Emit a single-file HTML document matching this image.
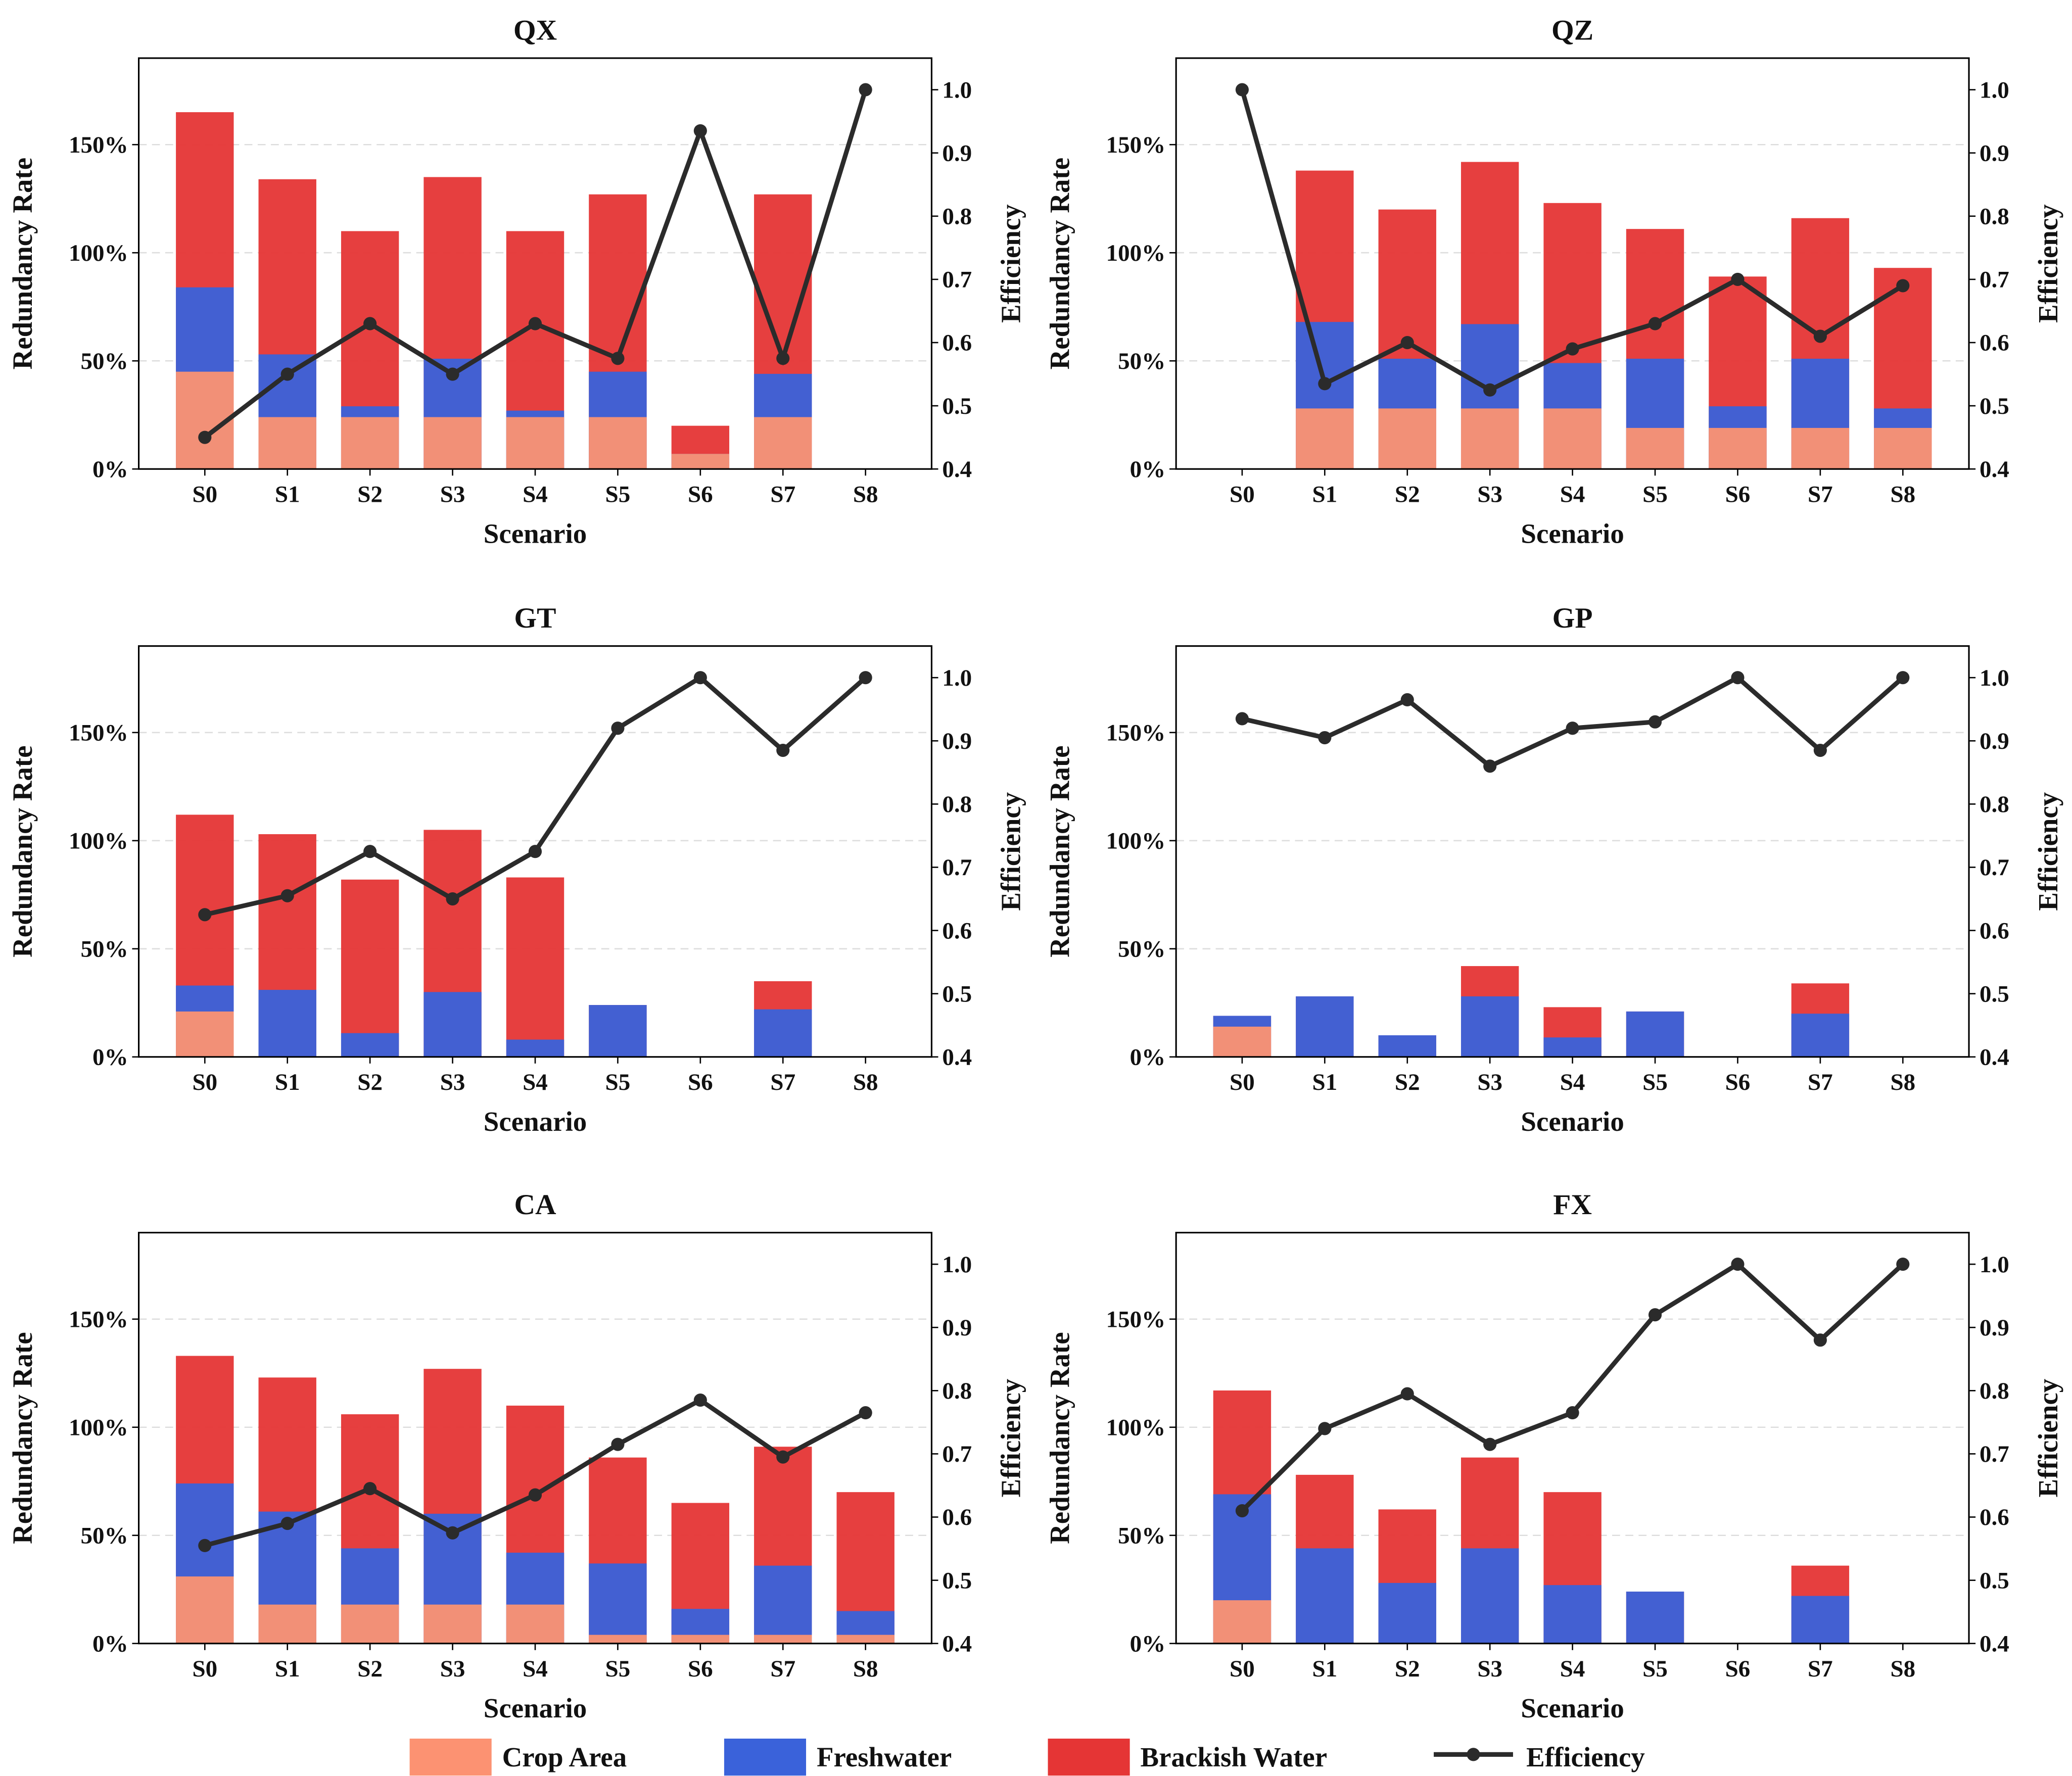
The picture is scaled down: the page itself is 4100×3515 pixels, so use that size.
<!DOCTYPE html>
<html><head><meta charset="utf-8">
<style>
html,body{margin:0;padding:0;background:#fff;}
svg{display:block;}
text{font-family:"Liberation Serif",serif;font-weight:bold;fill:#111;}
</style></head>
<body>
<svg id="chart" width="4100" height="3515" viewBox="0 0 1568 1344.3" preserveAspectRatio="none" xmlns="http://www.w3.org/2000/svg"></svg>
<script>
const scenarios = ["S0","S1","S2","S3","S4","S5","S6","S7","S8"];
const panelTitles = ["QX","QZ","GT","GP","CA","FX"];
const leftTicks = [0,50,100,150];
const rightTicks = [0.4,0.5,0.6,0.7,0.8,0.9,1.0];
const cropQX = [45,24,24,24,24,24,7,24,0];
const freshQX = [84,53,29,51,27,45,7,44,0];
const totalQX = [165,134,110,135,110,127,20,127,0];
const effQX = [0.45,0.55,0.63,0.55,0.63,0.575,0.935,0.575,1.0];
const cropQZ = [0,28,28,28,28,19,19,19,19];
const freshQZ = [0,68,51,67,49,51,29,51,28];
const totalQZ = [0,138,120,142,123,111,89,116,93];
const effQZ = [1.0,0.535,0.6,0.525,0.59,0.63,0.70,0.61,0.69];
const cropGT = [21,0,0,0,0,0,0,0,0];
const freshGT = [33,31,11,30,8,24,0,22,0];
const totalGT = [112,103,82,105,83,24,0,35,0];
const effGT = [0.625,0.655,0.725,0.65,0.725,0.92,1.0,0.885,1.0];
const cropGP = [14,0,0,0,0,0,0,0,0];
const freshGP = [19,28,10,28,9,21,0,20,0];
const totalGP = [19,28,10,42,23,21,0,34,0];
const effGP = [0.935,0.905,0.965,0.86,0.92,0.93,1.0,0.885,1.0];
const cropCA = [31,18,18,18,18,4,4,4,4];
const freshCA = [74,61,44,60,42,37,16,36,15];
const totalCA = [133,123,106,127,110,86,65,91,70];
const effCA = [0.555,0.59,0.645,0.575,0.635,0.715,0.785,0.695,0.765];
const cropFX = [20,0,0,0,0,0,0,0,0];
const freshFX = [69,44,28,44,27,24,0,22,0];
const totalFX = [117,78,62,86,70,24,0,36,0];
const effFX = [0.61,0.74,0.795,0.715,0.765,0.92,1.0,0.88,1.0];
const crops=[cropQX,cropQZ,cropGT,cropGP,cropCA,cropFX];
const freshs=[freshQX,freshQZ,freshGT,freshGP,freshCA,freshFX];
const totals=[totalQX,totalQZ,totalGT,totalGP,totalCA,totalFX];
const effs=[effQX,effQZ,effGT,effGP,effCA,effFX];

const NS="http://www.w3.org/2000/svg";
const svg=document.getElementById('chart');
function el(tag,attrs,parent,txt){const e=document.createElementNS(NS,tag);for(const k in attrs)e.setAttribute(k,attrs[k]);if(txt!==undefined)e.textContent=txt;(parent||svg).appendChild(e);return e;}
const C_CROP="#fc9272",C_FRESH="#3a62da",C_RED="#e53535";
const colX=[105,890], rowY=[44,489,933], W=600, H=311;
for(let p=0;p<6;p++){
  const x0=colX[p%2], y0=rowY[Math.floor(p/2)];
  const g=el('g',{});
  
  
  const xs=i=>x0+(i+0.8)/9.6*W;
  const yl=v=>y0+H-v/190*H;
  const yr=v=>y0+H-(v-0.4)/0.65*H;
  leftTicks.forEach(t=>{const l=el('line',{x1:x0,x2:x0+W,y1:yl(t),y2:yl(t),stroke:'#ddd','stroke-dasharray':'6,4','stroke-width':1},g);});
  const bw=0.7/9.6*W;
  for(let i=0;i<9;i++){
    [[totals[p][i],C_RED,'brackish'],[freshs[p][i],C_FRESH,'freshwater'],[crops[p][i],C_CROP,'crop']].forEach(([v,c,n])=>{
      if(v<=0)return;
      const r=el('rect',{x:xs(i)-bw/2,y:yl(v),width:bw,height:yl(0)-yl(v),fill:c,'fill-opacity':0.95},g);
      
      
    });
  }
  const pts=effs[p].map((v,i)=>xs(i)+','+yr(v)).join(' ');
  const pl=el('polyline',{points:pts,fill:'none',stroke:'#2b2b2b','stroke-width':3.5},g);
  
  
  effs[p].forEach((v,i)=>{const c=el('circle',{cx:xs(i),cy:yr(v),r:5,fill:'#2b2b2b'},g);});
  const fr=el('rect',{x:x0,y:y0,width:W,height:H,fill:'none',stroke:'#000','stroke-width':1.2},g);
  
  leftTicks.forEach(t=>{el('line',{x1:x0-5,x2:x0,y1:yl(t),y2:yl(t),stroke:'#000'},g);
    const tx=el('text',{x:x0-8,y:yl(t)+6,'text-anchor':'end','font-size':18},g,t+'%');});
  rightTicks.forEach(t=>{el('line',{x1:x0+W,x2:x0+W+5,y1:yr(t),y2:yr(t),stroke:'#000'},g);
    const tx=el('text',{x:x0+W+8,y:yr(t)+6,'font-size':18},g,t.toFixed(1));});
  scenarios.forEach((s,i)=>{el('line',{x1:xs(i),x2:xs(i),y1:y0+H,y2:y0+H+5,stroke:'#000'},g);
    const tx=el('text',{x:xs(i),y:y0+H+25,'text-anchor':'middle','font-size':18},g,s);});
  const t=el('text',{x:x0+W/2,y:y0-14,'text-anchor':'middle','font-size':22},g,panelTitles[p]);
  const xl=el('text',{x:x0+W/2,y:y0+H+56,'text-anchor':'middle','font-size':21},g,'Scenario');
  const ylb=el('text',{x:0,y:0,'text-anchor':'middle','font-size':21,transform:`translate(${x0-81},${y0+H/2}) rotate(-90)`},g,'Redundancy Rate');
  const yrb=el('text',{x:0,y:0,'text-anchor':'middle','font-size':21,transform:`translate(${x0+W+67},${y0+H/2}) rotate(-90)`},g,'Efficiency');
}
const lg=el('g',{});


[[310,C_CROP,'Crop Area'],[548,C_FRESH,'Freshwater'],[793,C_RED,'Brackish Water']].forEach(([x,c,n])=>{
  const r=el('rect',{x:x,y:1316,width:62,height:28,fill:c},lg);
  const t=el('text',{x:x+70,y:1337,'font-size':21},lg,n);
});
el('line',{x1:1085,x2:1145,y1:1328,y2:1328,stroke:'#2b2b2b','stroke-width':3.5},lg);
el('circle',{cx:1115,cy:1328,r:5,fill:'#2b2b2b'},lg);
const et=el('text',{x:1155,y:1337,'font-size':21},lg,'Efficiency');


</script>
</body></html>
